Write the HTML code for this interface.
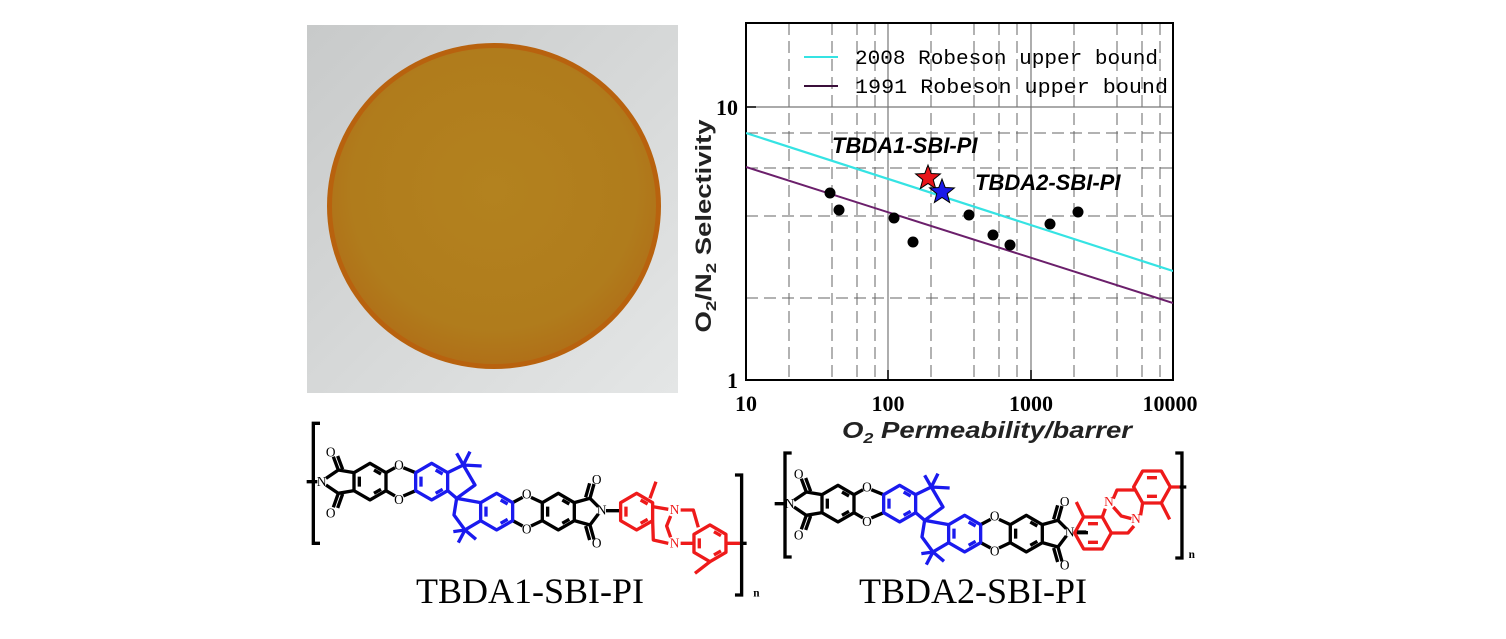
<!DOCTYPE html>
<html><head><meta charset="utf-8"><style>
html,body{margin:0;padding:0;background:#fff;}
svg{display:block;}
</style></head><body>
<svg width="1506" height="639" viewBox="0 0 1506 639" xmlns="http://www.w3.org/2000/svg">
<defs>
<radialGradient id="disk" cx="50%" cy="45%" r="55%">
<stop offset="0" stop-color="#b3821f"/><stop offset="0.8" stop-color="#b07c1c"/><stop offset="1" stop-color="#b07018"/>
</radialGradient>
<linearGradient id="bg" x1="0" y1="0" x2="1" y2="1">
<stop offset="0" stop-color="#c8caca"/><stop offset="1" stop-color="#e4e6e6"/>
</linearGradient>
<clipPath id="plotclip"><rect x="746" y="23" width="427" height="357"/></clipPath>
</defs>

<rect x="307" y="25" width="371" height="368" fill="url(#bg)"/>
<ellipse cx="494" cy="206" rx="167" ry="163" fill="#b8620e"/>
<ellipse cx="494" cy="206" rx="162" ry="158" fill="url(#disk)"/>

<g stroke="#666" stroke-width="1" stroke-dasharray="12,6" fill="none">
<line x1="789" y1="23" x2="789" y2="380"/><line x1="832" y1="23" x2="832" y2="380"/>
<line x1="857" y1="23" x2="857" y2="380"/><line x1="875" y1="23" x2="875" y2="380"/>
<line x1="931" y1="23" x2="931" y2="380"/><line x1="974" y1="23" x2="974" y2="380"/>
<line x1="999" y1="23" x2="999" y2="380"/><line x1="1017" y1="23" x2="1017" y2="380"/>
<line x1="1074" y1="23" x2="1074" y2="380"/><line x1="1117" y1="23" x2="1117" y2="380"/>
<line x1="1142" y1="23" x2="1142" y2="380"/><line x1="1160" y1="23" x2="1160" y2="380"/>
<line x1="746" y1="133" x2="1173" y2="133"/><line x1="746" y1="168" x2="1173" y2="168"/>
<line x1="746" y1="216" x2="1173" y2="216"/><line x1="746" y1="298" x2="1173" y2="298"/>
</g>
<g stroke="#777" stroke-width="1.2">
<line x1="888" y1="23" x2="888" y2="380"/><line x1="1031" y1="23" x2="1031" y2="380"/>
<line x1="746" y1="107" x2="1173" y2="107"/>
</g>
<rect x="746" y="23" width="427" height="357" fill="none" stroke="#000" stroke-width="2"/>
<g stroke="#000" stroke-width="1.5">
<line x1="746" y1="107" x2="756" y2="107"/>
<line x1="888" y1="380" x2="888" y2="370"/><line x1="1031" y1="380" x2="1031" y2="370"/>
</g>

<g clip-path="url(#plotclip)">
<line x1="746" y1="133" x2="1173" y2="271" stroke="#35e3e3" stroke-width="2.2"/>
<line x1="746" y1="167" x2="1173" y2="303" stroke="#6b1f6b" stroke-width="2"/>
<g fill="#000">
<circle cx="830" cy="193" r="5.5"/><circle cx="839" cy="210" r="5.5"/><circle cx="894" cy="218" r="5.5"/>
<circle cx="913" cy="242" r="5.5"/><circle cx="969" cy="215" r="5.5"/><circle cx="993" cy="235" r="5.5"/>
<circle cx="1010" cy="245" r="5.5"/><circle cx="1050" cy="224" r="5.5"/><circle cx="1078" cy="212" r="5.5"/>
</g>
<path transform="translate(928,178)" d="M0,-13 3.23,-4.45 12.36,-4.02 5.23,1.70 7.64,10.52 0,5.5 -7.64,10.52 -5.23,1.70 -12.36,-4.02 -3.23,-4.45Z" fill="#e8141a" stroke="#000" stroke-width="1"/>
<path transform="translate(942,192)" d="M0,-13 3.23,-4.45 12.36,-4.02 5.23,1.70 7.64,10.52 0,5.5 -7.64,10.52 -5.23,1.70 -12.36,-4.02 -3.23,-4.45Z" fill="#1a1ae8" stroke="#000" stroke-width="1"/>
<text x="832" y="153" font-family="Liberation Sans, sans-serif" font-size="22" font-weight="bold" font-style="italic" fill="#000">TBDA1-SBI-PI</text>
<text x="975" y="190" font-family="Liberation Sans, sans-serif" font-size="22" font-weight="bold" font-style="italic" fill="#000">TBDA2-SBI-PI</text>
</g>

<line x1="804" y1="57" x2="838" y2="57" stroke="#35e3e3" stroke-width="2"/>
<line x1="804" y1="86" x2="838" y2="86" stroke="#3a0f3a" stroke-width="2"/>
<g font-family="Liberation Mono, monospace" font-size="20.5" fill="#000">
<text x="855" y="64" textLength="303" lengthAdjust="spacingAndGlyphs">2008 Robeson upper bound</text>
<text x="855" y="93" textLength="313" lengthAdjust="spacingAndGlyphs">1991 Robeson upper bound</text>
</g>

<g font-family="Liberation Serif, serif" font-size="22" font-weight="bold" fill="#000" text-anchor="middle">
<text x="746" y="411">10</text><text x="888" y="411">100</text><text x="1031" y="411">1000</text><text x="1170" y="411">10000</text>
</g>
<g font-family="Liberation Serif, serif" font-size="22" font-weight="bold" fill="#000" text-anchor="end">
<text x="738" y="115">10</text><text x="738" y="388">1</text>
</g>
<text x="842" y="438" textLength="290" lengthAdjust="spacingAndGlyphs" font-family="Liberation Sans, sans-serif" font-size="23" font-weight="bold" font-style="italic" fill="#222">O<tspan font-size="15" dy="5">2</tspan><tspan dy="-5"> Permeability/barrer</tspan></text>
<text transform="translate(711,226) rotate(-90)" text-anchor="middle" textLength="213" lengthAdjust="spacingAndGlyphs" font-family="Liberation Sans, sans-serif" font-size="22" font-weight="bold" fill="#222">O<tspan font-size="15" dy="5">2</tspan><tspan dy="-5">/N</tspan><tspan font-size="15" dy="5">2</tspan><tspan dy="-5"> Selectivity</tspan></text>

<defs>
<g id="core" fill="none" stroke-width="10" stroke-linejoin="round">
<g stroke="#000">
<path d="M20,215 H52 M78,205 L115,180 L162,188 M78,225 L115,250 L162,242 M115,180 L100,140 M128,178 L113,138 M115,250 L100,292 M128,252 L113,294"/>
<path d="M210,160 L258,188 L258,242 L210,270 L162,242 L162,188 Z M222,180 L243,192 M243,238 L222,250 M178,200 L178,230"/>
<path d="M258,188 L285,173 M258,242 L285,258 M310,173 L347,188 M310,258 L347,242"/>
<path d="M638,278 L668,262 M638,332 L668,348 M693,262 L727,278 M693,348 L727,332"/>
<path d="M775,250 L823,278 L823,332 L775,360 L727,332 L727,278 Z M787,270 L808,282 M808,328 L787,340 M743,290 L743,320"/>
<path d="M823,278 L870,265 L895,290 M823,332 L870,345 L895,312 M870,265 L882,222 M857,262 L869,220 M870,345 L882,388 M857,348 L869,390 M918,302 L960,302"/>
</g>
<g stroke="#1a1aee">
<path d="M395,160 L443,188 L443,242 L395,270 L347,242 L347,188 Z M407,180 L428,192 M428,238 L407,250 M363,200 L363,230"/>
<path d="M443,188 L490,165 L525,225 L470,265 L443,242 M490,165 L510,125 M490,165 L545,168 M490,165 L470,130"/>
<path d="M590,250 L638,278 L638,332 L590,360 L542,332 L542,278 Z M602,270 L623,282 M623,328 L602,340 M558,290 L558,320"/>
<path d="M470,265 L542,278 M470,265 L462,315 L495,360 L542,332 M495,360 L475,398 M495,360 L528,388 M495,360 L460,365"/>
</g>
</g>
</defs>
<g font-family="Liberation Serif, serif" font-size="13" fill="#000">
<g transform="translate(300,410) scale(0.3333)">
<use href="#core"/>
<g font-size="40" text-anchor="middle">
<text x="65" y="228">N</text><text x="92" y="140">O</text><text x="92" y="322">O</text>
<text x="297" y="178">O</text><text x="297" y="282">O</text><text x="680" y="265">O</text><text x="680" y="370">O</text>
<text x="905" y="313">N</text><text x="890" y="222">O</text><text x="890" y="412">O</text>
<text x="1124" y="312" fill="#ee1a1a">N</text><text x="1124" y="412" fill="#ee1a1a">N</text>
</g>
<g fill="none" stroke="#ee1a1a" stroke-width="10" stroke-linejoin="round">
<path d="M1010,250 L1058,278 L1058,332 L1010,360 L962,332 L962,278 Z M1022,270 L1043,282 M1043,328 L1022,340 M978,290 L978,320"/>
<path d="M1050,265 L1068,215 M1058,290 L1105,298 M1058,332 L1060,390 L1105,400 M1142,300 L1180,300 L1195,352 M1142,400 L1182,400 M1112,318 L1100,348 L1112,382"/>
<path d="M1230,345 L1278,373 L1278,427 L1230,455 L1182,427 L1182,373 Z M1242,365 L1263,377 M1263,423 L1242,435 M1198,385 L1198,415"/>
<path d="M1230,455 L1185,490 M1278,400 L1320,400"/>
</g>
<path d="M1320,400 H1340" stroke="#000" stroke-width="10"/>
<path d="M60,40 H40 V400 H60 M1305,195 H1325 V555 H1305" fill="none" stroke="#000" stroke-width="10"/>
<text x="1360" y="560" font-size="34" font-weight="bold">n</text>
</g>
<text x="530" y="603" text-anchor="middle" font-size="36">TBDA1-SBI-PI</text>

<g transform="translate(768,432) scale(0.3333)">
<use href="#core"/>
<g font-size="40" text-anchor="middle">
<text x="65" y="228">N</text><text x="92" y="140">O</text><text x="92" y="322">O</text>
<text x="297" y="178">O</text><text x="297" y="282">O</text><text x="680" y="265">O</text><text x="680" y="370">O</text>
<text x="905" y="313">N</text><text x="890" y="222">O</text><text x="890" y="412">O</text>
<text x="1023" y="222" fill="#ee1a1a">N</text><text x="1104" y="273" fill="#ee1a1a">N</text>
</g>
<g fill="none" stroke="#ee1a1a" stroke-width="10" stroke-linejoin="round">
<path d="M920,303 L947,255 L1003,255 L1030,303 L1003,351 L947,351 Z M960,275 L990,275 M990,331 L960,331"/>
<path d="M947,255 L925,210 M1003,255 L1012,230 M1036,200 L1047,174 L1101,174 M1036,225 L1060,252 L1090,260 M1030,303 L1080,303 L1098,282 M1118,250 L1124,213"/>
<path d="M1097,165 L1124,117 L1180,117 L1207,165 L1180,213 L1124,213 Z M1137,137 L1167,137 M1167,193 L1137,193"/>
<path d="M1180,213 L1205,262 M1207,165 L1235,165"/>
</g>
<path d="M928,300 H955 M1235,165 H1255" fill="none" stroke="#000" stroke-width="10"/>
<path d="M71,63 H51 V375 H71 M1222,63 H1242 V378 H1222" fill="none" stroke="#000" stroke-width="10"/>
<text x="1262" y="378" font-size="34" font-weight="bold">n</text>
</g>
<text x="973" y="603" text-anchor="middle" font-size="36">TBDA2-SBI-PI</text>
</g>
</svg>
</body></html>
